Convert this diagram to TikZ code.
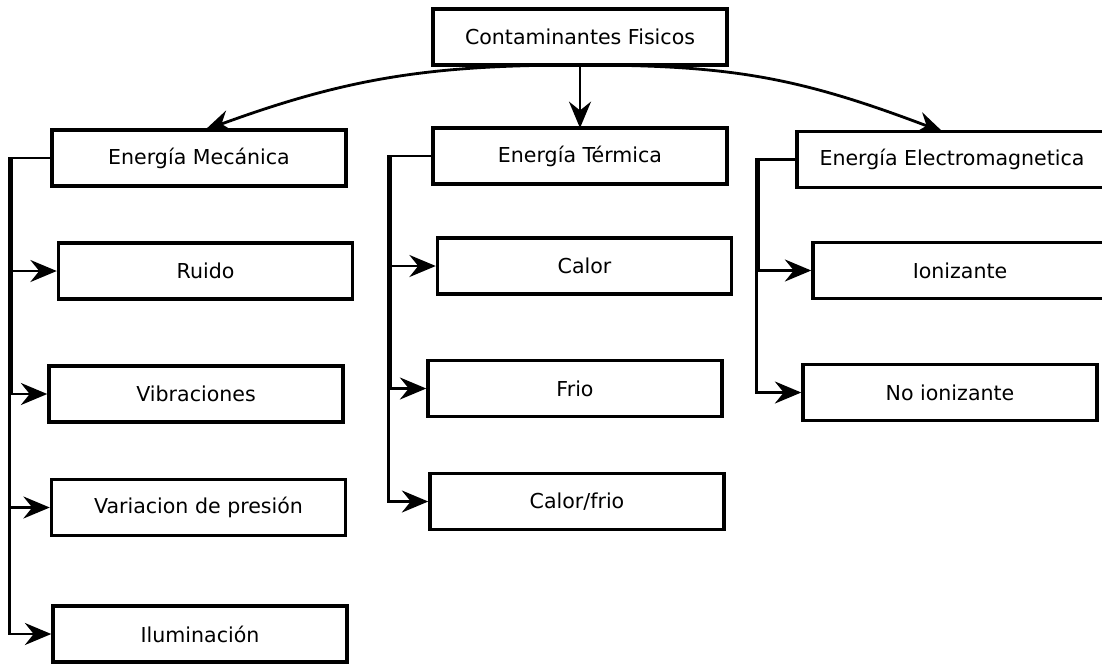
\documentclass[tikz,border=0pt]{standalone}
\usepackage{fontspec}
\setmainfont{DejaVu Sans}
\usetikzlibrary{arrows.meta}

\begin{document}
\begin{tikzpicture}[x=0.02cm, y=-0.02cm,
    every node/.style={font=\fontsize{11.7}{14}\selectfont},
    caja/.style={draw, line width=2pt, minimum width=5.88cm, minimum height=1.12cm, inner sep=0pt, fill=white},
    flecha/.style={line width=1.6pt, -{Stealth[length=15pt, width=12.5pt, inset=5pt]}}]
        \useasboundingbox[fill=white] (0,0) rectangle (1102,664);

        % Arrows from the top box (drawn first, the boxes cover the ends)
        \coordinate (arr) at (580,65);
        \draw[flecha] (arr) .. controls +(-150,0) and +(142,-52) .. (205,130) coordinate (mecaN);
        \draw[flecha] (arr) .. controls +(150,0) and +(-145,-55) .. (943,132) coordinate (elecN);
        \draw[flecha] (arr) -- (580,128) coordinate (termN);

        % Top box
        \node[caja] (top) at (580,37) {Contaminantes Fisicos};

        % Main groups
        \node[caja] (meca) at (199,158) {Energía Mecánica};
        \node[caja] (term) at (580,156) {Energía Térmica};
        \node[caja, minimum width=6.2cm] (elec) at (952,159.5) {Energía Electromagnetica};

        % Mechanical
        \node[caja] (ruido) at (205.5,271) {Ruido};
        \node[caja] (vibr) at (196,394) {Vibraciones};
        \node[caja] (varp) at (198.5,507.5) {Variacion de presión};
        \node[caja] (ilum) at (200,634) {Iluminación};

        % Thermal
        \node[caja] (calor) at (584.5,266) {Calor};
        \node[caja] (frio) at (575,388.5) {Frio};
        \node[caja] (calfrio) at (577,501.5) {Calor/frio};

        % Electromagnetic
        \node[caja] (ion) at (960,270.5) {Ionizante};
        \node[caja] (noion) at (950,392.5) {No ionizante};

        % Branches
        \draw[flecha] (meca.west) -- ++(-39,0) |- (ruido.west);
        \draw[flecha] (meca.west) -- ++(-39,0) |- (vibr.west);
        \draw[flecha] (meca.west) -- ++(-41,0) |- (varp.west);
        \draw[flecha] (meca.west) -- ++(-41,0) |- (ilum.west);

        \draw[flecha] (term.west) -- ++(-41,0) |- (calor.west);
        \draw[flecha] (term.west) -- ++(-41,0) |- (frio.west);
        \draw[flecha] (term.west) -- ++(-43,0) |- (calfrio.west);

        \draw[flecha] (elec.west) -- ++(-37,0) |- (ion.west);
        \draw[flecha] (elec.west) -- ++(-39,0) |- (noion.west);
\end{tikzpicture}
\end{document}
